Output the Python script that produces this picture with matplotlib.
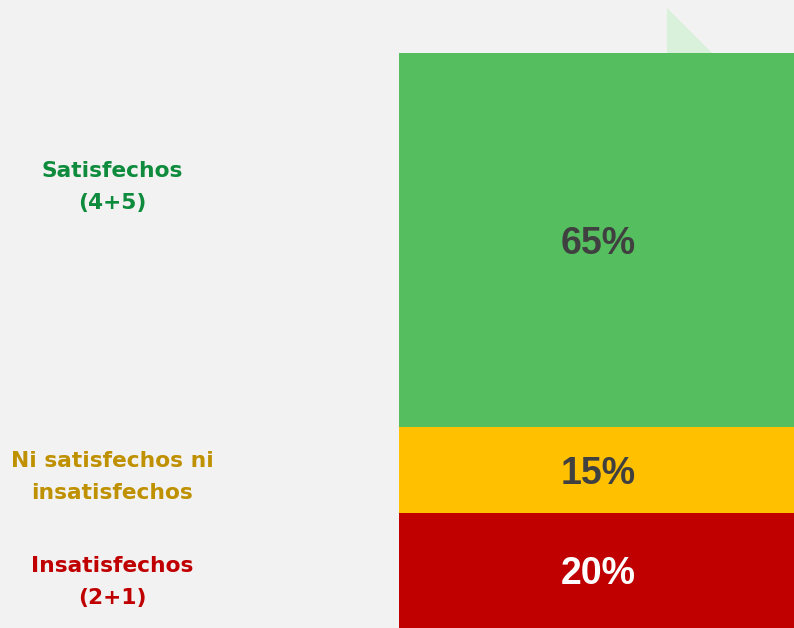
import matplotlib
matplotlib.use("Agg")
import matplotlib.pyplot as plt
from matplotlib.patches import Polygon
from matplotlib.font_manager import FontProperties

categories = ["Insatisfechos\n(2+1)", "Ni satisfechos ni\ninsatisfechos", "Satisfechos\n(4+5)"]
values = [20, 15, 65]
value_labels = ["20%", "15%", "65%"]

bar_colors = ["#C00000", "#FFC000", "#55BE5E"]
label_colors = ["#C00000", "#BF9000", "#0E8B3C"]
value_colors = ["#FFFFFF", "#404040", "#404040"]
bg = "#F2F2F2"

W, H = 794, 628
fig = plt.figure(figsize=(W / 100, H / 100), dpi=100, facecolor=bg)

# decorative triangle
tri = Polygon([[667 / W, 1 - 8 / H], [667 / W, 1 - 53 / H], [712 / W, 1 - 53 / H]],
              closed=True, transform=fig.transFigure, facecolor="#D9F0DA",
              edgecolor="none", zorder=0)
fig.patches.append(tri)

val_font = FontProperties(family="Liberation Sans", weight="bold", stretch="normal", size=27)

# bar axes extends slightly past the right edge (bar is cropped in the reference)
ax = fig.add_axes([399 / W, 0, 399 / W, (H - 53) / H])
ax.set_facecolor(bg)
bottom = 0
for v, c, lab, vc in zip(values, bar_colors, value_labels, value_colors):
    ax.bar(0, v, bottom=bottom, width=1.0, color=c, edgecolor="none")
    ax.text(0, bottom + v / 2, lab, ha="center", va="center_baseline",
            fontproperties=val_font, color=vc)
    bottom += v
ax.set_xlim(-0.5, 0.5)
ax.set_ylim(0, sum(values))
ax.axis("off")

# category labels on the left
label_y = [582, 477, 187]
for cat, col, y in zip(categories, label_colors, label_y):
    fig.text(112 / W, 1 - y / H, cat, ha="center", va="center", fontsize=15.7,
             fontweight="bold", color=col, family="DejaVu Sans", linespacing=1.7)

fig.savefig("out.png", dpi=100, facecolor=bg)
